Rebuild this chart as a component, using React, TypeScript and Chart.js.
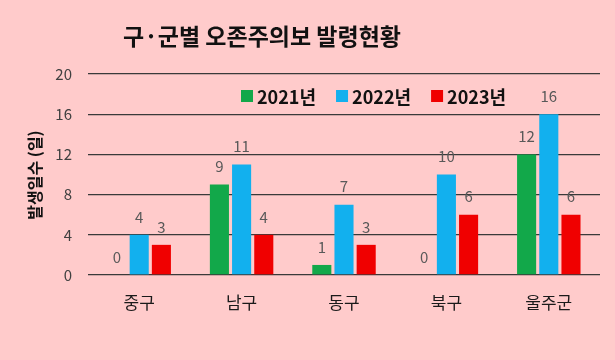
import React, { useEffect, useRef } from "react";
import { Chart, registerables } from "chart.js";

Chart.register(...registerables);

const categories = ["중구", "남구", "동구", "북구", "울주군"];
const seriesLabels = ["2021년", "2022년", "2023년"];
const values2021 = [0, 9, 1, 0, 12];
const values2022 = [4, 11, 7, 10, 16];
const values2023 = [3, 4, 3, 6, 6];
const seriesColors = ["#12A84A", "#12B0EE", "#F00000"];
const yTicks = [0, 4, 8, 12, 16, 20];
const titleText = "구·군별 오존주의보 발령현황";
const yTitleText = "발생일수 (일)";

const FONT = "'Noto Sans CJK KR', 'Noto Sans', sans-serif";

export default function App() {
  const ref = useRef<HTMLCanvasElement>(null);
  useEffect(() => {
    document.body.style.margin = "0";
    const canvas = ref.current!;
    const overlay = {
      id: "overlay",
      beforeDraw(chart: any) {
        const { ctx } = chart;
        ctx.save();
        ctx.fillStyle = "#FFCBCB";
        ctx.fillRect(0, 0, chart.width, chart.height);
        ctx.restore();
      },
      afterDatasetsDraw(chart: any) {
        const { ctx, chartArea } = chart;
        ctx.save();
        // data labels
        ctx.font = `15px ${FONT}`;
        ctx.fillStyle = "#595959";
        ctx.textAlign = "center";
        ctx.textBaseline = "middle";
        chart.data.datasets.forEach((ds: any, i: number) => {
          const meta = chart.getDatasetMeta(i);
          meta.data.forEach((el: any, j: number) => {
            ctx.fillText(String(ds.data[j]), el.x, el.y - 18);
          });
        });
        // title
        ctx.font = `bold 23px ${FONT}`;
        ctx.fillStyle = "#111";
        ctx.fillText(titleText, 262, 36);
        // y title
        ctx.save();
        ctx.translate(35, 175);
        ctx.rotate(-Math.PI / 2);
        ctx.font = `bold 16px ${FONT}`;
        ctx.fillStyle = "#111";
        ctx.fillText(yTitleText, 0, 0);
        ctx.restore();
        // legend
        let x = chartArea.left + 153;
        const y = 96;
        ctx.font = `bold 18px ${FONT}`;
        ctx.textAlign = "left";
        seriesLabels.forEach((lab, i) => {
          ctx.fillStyle = seriesColors[i];
          ctx.fillRect(x, y - 6, 12, 12);
          ctx.fillStyle = "#111";
          const w = ctx.measureText(lab).width;
          ctx.fillText(lab, x + 16, y + 1);
          x += 16 + w + 20;
        });
        ctx.restore();
      },
    };
    const chart = new Chart(canvas, {
      type: "bar",
      data: {
        labels: categories,
        datasets: [values2021, values2022, values2023].map((d, i) => ({
          label: seriesLabels[i],
          data: d,
          backgroundColor: seriesColors[i],
          categoryPercentage: 0.65,
          barPercentage: 0.86,
        })),
      },
      options: {
        animation: false,
        responsive: false,
        layout: { padding: { top: 74, left: 0, right: 15, bottom: 0 } },
        plugins: { legend: { display: false }, tooltip: { enabled: false } },
        scales: {
          x: {
            grid: { display: false },
            border: { display: false },
            ticks: { color: "#1a1a1a", font: { family: FONT, size: 17 }, padding: 9 },
            afterFit: (s: any) => { s.height = 85; },
          },
          y: {
            min: 0,
            max: 20,
            afterBuildTicks: (s: any) => { s.ticks = yTicks.map((v) => ({ value: v })); },
            grid: { color: "#3a3a3a", lineWidth: 1.3, drawTicks: false },
            border: { display: false },
            ticks: { color: "#404040", font: { family: FONT, size: 15 }, padding: 16 },
            afterFit: (s: any) => { s.width = 88; },
          },
        },
      },
      plugins: [overlay],
    });
    return () => chart.destroy();
  }, []);
  return (
    <div style={{ width: 615, height: 360, background: "#FFCBCB" }}>
      <canvas ref={ref} width={615} height={360} />
    </div>
  );
}
